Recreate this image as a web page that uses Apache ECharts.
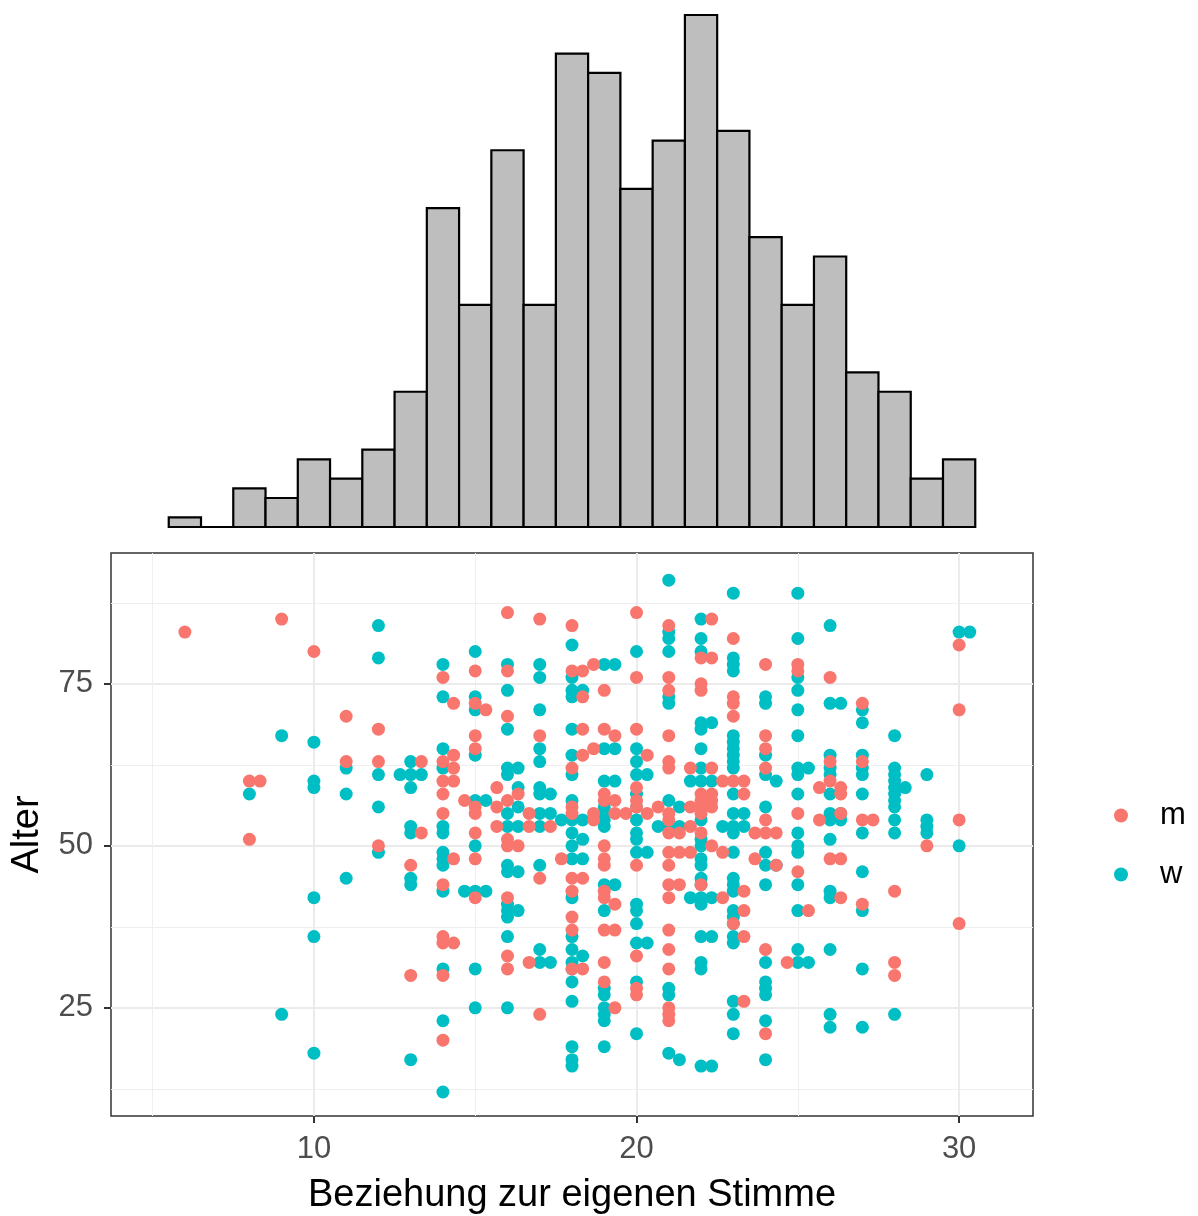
<!DOCTYPE html>
<html>
<head>
<meta charset="utf-8">
<script src="https://cdn.jsdelivr.net/npm/echarts@6/dist/echarts.min.js"></script>
<style>
  html, body { margin: 0; padding: 0; background: #fff; }
  #chart { width: 1198px; height: 1216px; }
</style>
</head>
<body>
<div id="chart"></div>
<script>
// Histogramm oben: Klassenmitten (Breite 1) und Häufigkeiten
var histCenters = [6, 7, 8, 9, 10, 11, 12, 13, 14, 15, 16, 17, 18, 19, 20, 21, 22, 23, 24, 25, 26, 27, 28, 29, 30];
var histCounts  = [1, 0, 4, 3, 7, 5, 8, 14, 33, 23, 39, 23, 49, 47, 35, 40, 53, 41, 30, 23, 28, 16, 14, 5, 7];

var xTicks = [10, 20, 30];
var xMinor = [5, 15, 25];
var yTicks = [25, 50, 75];
var yMinor = [12.5, 37.5, 62.5, 87.5];

var groups = ['m', 'w'];

// [Beziehung zur eigenen Stimme, Alter]
var mPoints = [
  [6, 83], [8, 60], [8, 51], [8.33, 60], [9, 85], [10, 80], [11, 70], [11, 63],
  [12, 68], [12, 63], [12, 50], [13, 47], [13, 30], [13.33, 63], [13.33, 52],
  [14, 76], [14, 63], [14, 60], [14, 58], [14, 55], [14, 44], [14, 36], [14, 35], [14, 30], [14, 20],
  [14.33, 72], [14.33, 64], [14.33, 62], [14.33, 60], [14.33, 48], [14.33, 35], [14.67, 57],
  [15, 77], [15, 72], [15, 67], [15, 65], [15, 56], [15, 55], [15, 52], [15, 48], [15, 42], [15.33, 71],
  [15.67, 59], [15.67, 56], [15.67, 53],
  [16, 86], [16, 77], [16, 70], [16, 57], [16, 51], [16, 50], [16, 42], [16, 33], [16, 31],
  [16.33, 58], [16.33, 50], [16.67, 55], [16.67, 53], [16.67, 32],
  [17, 85], [17, 67], [17, 45], [17, 24], [17.33, 53], [17.67, 48],
  [18, 84], [18, 77], [18, 62], [18, 56], [18, 55], [18, 45], [18, 43], [18, 39], [18, 37], [18, 31],
  [18.33, 77], [18.33, 73], [18.33, 68], [18.33, 64], [18.33, 45], [18.33, 31],
  [18.67, 78], [18.67, 65], [18.67, 55], [18.67, 54],
  [19, 74], [19, 68], [19, 58], [19, 57], [19, 50], [19, 48], [19, 47], [19, 43], [19, 42], [19, 37], [19, 32], [19, 29],
  [19.33, 67], [19.33, 57], [19.33, 55], [19.33, 41], [19.33, 37], [19.33, 25], [19.67, 55],
  [20, 86], [20, 76], [20, 68], [20, 59], [20, 57], [20, 56], [20, 47], [20, 33], [20, 28], [20, 27],
  [20.33, 64], [20.33, 55], [20.67, 56],
  [21, 84], [21, 76], [21, 74], [21, 67], [21, 63], [21, 62], [21, 55], [21, 54], [21, 52], [21, 49],
  [21, 47], [21, 44], [21, 42], [21, 37], [21, 34], [21, 31], [21, 25], [21, 24], [21, 23],
  [21.33, 52], [21.33, 49], [21.33, 44], [21.67, 62], [21.67, 56], [21.67, 53], [21.67, 49],
  [22, 79], [22, 75], [22, 74], [22, 58], [22, 57], [22, 56], [22, 55], [22, 52], [22, 44],
  [22.33, 85], [22.33, 79], [22.33, 62], [22.33, 58], [22.33, 57], [22.33, 56], [22.33, 50],
  [22.67, 60], [22.67, 49], [22.67, 42],
  [23, 82], [23, 73], [23, 72], [23, 70], [23, 60], [23, 38],
  [23.33, 60], [23.33, 58], [23.33, 43], [23.33, 40], [23.33, 36], [23.33, 26], [23.67, 52], [23.67, 48],
  [24, 78], [24, 67], [24, 65], [24, 62], [24, 54], [24, 52], [24, 34], [24, 21],
  [24.33, 52], [24.33, 47], [24.67, 32],
  [25, 78], [25, 77], [25, 55], [25, 46], [25.33, 40], [25.67, 59], [25.67, 54],
  [26, 76], [26, 63], [26, 60], [26, 48], [26.33, 59], [26.33, 58], [26.33, 55], [26.33, 48], [26.33, 42],
  [27, 72], [27, 63], [27, 54], [27, 41], [27.33, 54],
  [28, 43], [28, 32], [28, 30], [29, 50], [30, 81], [30, 71], [30, 54], [30, 38]
];

var wPoints = [
  [8, 58], [9, 67], [9, 24], [10, 66], [10, 60], [10, 59], [10, 42], [10, 36], [10, 18],
  [11, 62], [11, 58], [11, 45], [12, 84], [12, 79], [12, 61], [12, 56], [12, 49], [12.67, 61],
  [13, 63], [13, 61], [13, 59], [13, 53], [13, 52], [13, 45], [13, 44], [13, 17], [13.33, 61],
  [14, 78], [14, 73], [14, 65], [14, 62], [14, 53], [14, 52], [14, 49], [14, 48], [14, 47], [14, 43],
  [14, 31], [14, 23], [14, 12], [14.67, 43],
  [15, 80], [15, 73], [15, 71], [15, 64], [15, 57], [15, 50], [15, 43], [15, 31], [15, 25], [15.33, 57], [15.33, 43],
  [16, 78], [16, 74], [16, 68], [16, 62], [16, 61], [16, 55], [16, 53], [16, 47], [16, 46], [16, 41],
  [16, 40], [16, 39], [16, 36], [16, 25],
  [16.33, 62], [16.33, 59], [16.33, 56], [16.33, 53], [16.33, 46], [16.33, 40],
  [17, 78], [17, 76], [17, 71], [17, 65], [17, 63], [17, 59], [17, 58], [17, 55], [17, 53], [17, 47], [17, 34], [17, 32],
  [17.33, 58], [17.33, 55], [17.33, 32], [17.67, 54],
  [18, 81], [18, 76], [18, 74], [18, 73], [18, 68], [18, 64], [18, 61], [18, 57], [18, 54], [18, 52], [18, 50],
  [18, 48], [18, 42], [18, 36], [18, 34], [18, 32], [18, 31], [18, 29], [18, 26], [18, 19], [18, 17], [18, 16],
  [18.33, 74], [18.33, 54], [18.33, 51], [18.33, 48], [18.33, 33],
  [19, 78], [19, 65], [19, 60], [19, 56], [19, 55], [19, 54], [19, 53], [19, 44], [19, 40], [19, 28],
  [19, 27], [19, 25], [19, 24], [19, 23], [19, 19],
  [19.33, 78], [19.33, 65], [19.33, 60], [19.33, 44],
  [20, 80], [20, 65], [20, 63], [20, 61], [20, 58], [20, 56], [20, 54], [20, 52], [20, 51], [20, 49],
  [20, 41], [20, 40], [20, 38], [20, 35], [20, 29], [20, 21],
  [20.33, 61], [20.33, 49], [20.33, 35], [20.67, 53],
  [21, 91], [21, 83], [21, 82], [21, 80], [21, 73], [21, 72], [21, 57], [21, 53], [21, 28], [21, 27], [21, 18],
  [21.33, 56], [21.33, 53], [21.33, 17], [21.67, 60], [21.67, 42],
  [22, 85], [22, 82], [22, 80], [22, 69], [22, 68], [22, 65], [22, 62], [22, 60], [22, 54], [22, 51], [22, 50],
  [22, 48], [22, 47], [22, 45], [22, 44], [22, 42], [22, 41], [22, 36], [22, 32], [22, 31], [22, 16],
  [22.33, 69], [22.33, 60], [22.33, 42], [22.33, 36], [22.33, 16], [22.67, 53],
  [23, 89], [23, 79], [23, 78], [23, 77], [23, 67], [23, 66], [23, 65], [23, 64], [23, 63], [23, 62], [23, 58],
  [23, 55], [23, 53], [23, 52], [23, 49], [23, 45], [23, 44], [23, 43], [23, 40], [23, 39], [23, 38], [23, 36],
  [23, 35], [23, 26], [23, 24], [23, 21], [23.33, 55], [23.33, 53],
  [24, 73], [24, 72], [24, 64], [24, 61], [24, 56], [24, 49], [24, 47], [24, 44], [24, 32], [24, 29],
  [24, 28], [24, 27], [24, 23], [24, 17], [24.33, 60], [24.33, 47],
  [25, 89], [25, 82], [25, 76], [25, 74], [25, 71], [25, 67], [25, 62], [25, 61], [25, 58], [25, 52],
  [25, 50], [25, 49], [25, 44], [25, 40], [25, 34], [25, 32], [25.33, 62], [25.33, 32],
  [26, 84], [26, 72], [26, 64], [26, 62], [26, 61], [26, 58], [26, 55], [26, 54], [26, 51], [26, 43],
  [26, 42], [26, 34], [26, 24], [26, 22], [26.33, 72], [26.33, 55], [26.33, 54],
  [27, 71], [27, 69], [27, 64], [27, 62], [27, 61], [27, 58], [27, 52], [27, 46], [27, 40], [27, 31], [27, 22],
  [28, 67], [28, 62], [28, 61], [28, 60], [28, 59], [28, 58], [28, 57], [28, 56], [28, 54], [28, 52], [28, 24],
  [28.33, 59], [29, 61], [29, 54], [29, 53], [29, 52], [30, 83], [30, 50], [30.33, 83]
];

var xMin = 3.71, xMax = 32.29;
var yMin = 8.3, yMax = 95.2;

var chart = echarts.init(document.getElementById('chart'), null, { renderer: 'canvas' });

var fontFam = 'Arial, "Liberation Sans", sans-serif';
var tickStyle = { show: true, length: 7, lineStyle: { color: '#333333', width: 2 } };
var labelStyle = { color: '#4D4D4D', fontSize: 31, fontFamily: fontFam };
var titleStyle = { color: '#000', fontSize: 38, fontFamily: fontFam };

var option = {
  animation: false,
  backgroundColor: '#fff',
  grid: [
    { left: 111, top: 553, width: 922, height: 563, show: true, borderColor: '#333333', borderWidth: 1.5, backgroundColor: 'transparent' },
    { left: 111, top: 15, width: 922, height: 512 }
  ],
  legend: {
    data: groups,
    orient: 'vertical',
    left: 1114,
    top: 800,
    padding: 0,
    itemWidth: 14,
    itemHeight: 14,
    itemGap: 28,
    icon: 'circle',
    textStyle: { fontSize: 31, lineHeight: 30, color: '#000', padding: [0, 0, 0, 27], fontFamily: fontFam }
  },
  xAxis: [
    {
      type: 'value', gridIndex: 0, min: xMin, max: xMax, position: 'bottom',
      name: 'Beziehung zur eigenen Stimme', nameLocation: 'middle', nameGap: 61, nameTextStyle: titleStyle,
      axisLine: { show: false },
      axisTick: Object.assign({ customValues: xTicks }, tickStyle),
      axisLabel: Object.assign({ customValues: xTicks, margin: 18 }, labelStyle),
      splitLine: { show: true, lineStyle: { color: '#EBEBEB', width: 2 } }
    },
    {
      type: 'value', gridIndex: 0, min: xMin, max: xMax, position: 'top',
      axisLine: { show: false },
      axisTick: { show: false, customValues: xMinor },
      axisLabel: { show: false, customValues: xMinor },
      splitLine: { show: true, lineStyle: { color: '#EFEFEF', width: 1 } }
    },
    {
      type: 'value', gridIndex: 1, min: xMin, max: xMax,
      axisLine: { show: false }, axisTick: { show: false }, axisLabel: { show: false }, splitLine: { show: false }
    }
  ],
  yAxis: [
    {
      type: 'value', gridIndex: 0, min: yMin, max: yMax,
      name: 'Alter', nameLocation: 'middle', nameGap: 64, nameRotate: 90, nameTextStyle: titleStyle,
      axisLine: { show: false },
      axisTick: Object.assign({ customValues: yTicks }, tickStyle),
      axisLabel: Object.assign({ customValues: yTicks, margin: 18 }, labelStyle),
      splitLine: { show: true, lineStyle: { color: '#EBEBEB', width: 2 } }
    },
    {
      type: 'value', gridIndex: 0, min: yMin, max: yMax, position: 'right',
      axisLine: { show: false },
      axisTick: { show: false, customValues: yMinor },
      axisLabel: { show: false, customValues: yMinor },
      splitLine: { show: true, lineStyle: { color: '#EFEFEF', width: 1 } }
    },
    {
      type: 'value', gridIndex: 1, min: 0, max: 53,
      axisLine: { show: false }, axisTick: { show: false }, axisLabel: { show: false }, splitLine: { show: false }
    }
  ],
  series: [
    {
      name: 'w', type: 'scatter', xAxisIndex: 0, yAxisIndex: 0,
      symbol: 'circle', symbolSize: 13,
      itemStyle: { color: '#00BFC4', opacity: 1 },
      data: wPoints, z: 3
    },
    {
      name: 'm', type: 'scatter', xAxisIndex: 0, yAxisIndex: 0,
      symbol: 'circle', symbolSize: 13,
      itemStyle: { color: '#F8766D', opacity: 1 },
      data: mPoints, z: 4
    },
    {
      type: 'custom', xAxisIndex: 2, yAxisIndex: 2,
      renderItem: function (params, api) {
        var c = api.value(0), n = api.value(1);
        var p0 = api.coord([c - 0.5, n]);
        var p1 = api.coord([c + 0.5, 0]);
        return {
          type: 'rect',
          shape: { x: p0[0], y: p0[1], width: p1[0] - p0[0], height: p1[1] - p0[1] },
          style: { fill: '#BEBEBE', stroke: '#000', lineWidth: 2.2 }
        };
      },
      data: histCenters.map(function (c, i) { return [c, histCounts[i]]; })
    }
  ]
};

chart.setOption(option);
</script>
</body>
</html>
